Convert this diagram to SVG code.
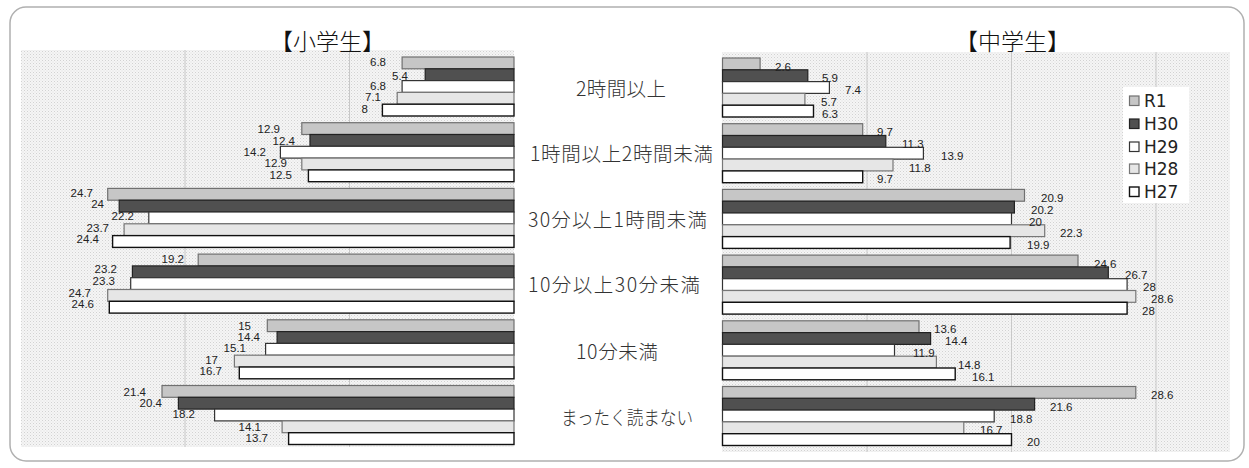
<svg xmlns="http://www.w3.org/2000/svg" width="1249" height="468" viewBox="0 0 1249 468">
<style>
.r1{fill:#c6c6c6;stroke:#707070;stroke-width:1.2}
.h30{fill:#505050;stroke:#222;stroke-width:1.2}
.h29{fill:#fff;stroke:#333;stroke-width:1.2}
.h28{fill:#e6e6e6;stroke:#777;stroke-width:1.2}
.h27{fill:#fff;stroke:#111;stroke-width:1.4}
.grid{stroke:#c8c8c8;stroke-width:1}
.val{font-family:"Liberation Sans",Arial,sans-serif;font-size:11.5px;fill:#222}
.vl{text-anchor:end}
.cat{font-family:"Noto Sans CJK JP",sans-serif;font-size:19.5px;font-weight:300;fill:#333;text-anchor:middle}
.ttl{font-family:"Noto Sans CJK JP",sans-serif;font-size:23px;font-weight:300;fill:#111;text-anchor:middle}
.lg{font-family:"DejaVu Sans",sans-serif;font-size:17px;fill:#222}
</style>
<defs>
<pattern id="dots" width="3" height="3" patternUnits="userSpaceOnUse">
<rect width="3" height="3" fill="#f5f5f5"/>
<rect width="1" height="1" fill="#d2d2d2"/>
<rect x="1.5" y="1.5" width="1" height="1" fill="#dedede"/>
</pattern>
</defs>
<rect x="0" y="0" width="1249" height="468" fill="#fff"/>
<rect id="frame" x="10" y="7" width="1234" height="454" rx="16" fill="#fff" stroke="#b0b0b0" stroke-width="1.5"/>

<g id="plot-left">
<rect x="21" y="50" width="493" height="397" fill="url(#dots)"/>
<line class="grid" x1="185" y1="50" x2="185" y2="447"/>
<line class="grid" x1="349.5" y1="50" x2="349.5" y2="447"/>
</g>
<g id="plot-right">
<rect x="722" y="52" width="508" height="400" fill="url(#dots)"/>
<line class="grid" x1="867" y1="52" x2="867" y2="452"/>
<line class="grid" x1="1011.5" y1="52" x2="1011.5" y2="452"/>
<line class="grid" x1="1156" y1="52" x2="1156" y2="452"/>
</g>

<text id="title-left" class="ttl" x="327.5" y="50">【小学生】</text>
<text id="title-right" class="ttl" x="1012.5" y="50">【中学生】</text>

<g id="categories">
<text class="cat" x="621" y="96" textLength="90">2時間以上</text>
<text class="cat" x="621.5" y="161" textLength="183">1時間以上2時間未満</text>
<text class="cat" x="617.5" y="227" textLength="179">30分以上1時間未満</text>
<text class="cat" x="614" y="292" textLength="172">10分以上30分未満</text>
<text class="cat" x="617" y="359" textLength="82">10分未満</text>
<text class="cat" x="627" y="425" textLength="132" lengthAdjust="spacingAndGlyphs">まったく読まない</text>
</g>

<g id="left-g1">
<rect class="r1" x="402.1" y="57" width="111.9" height="11.8"/>
<rect class="h30" x="425.2" y="68.8" width="88.8" height="11.8"/>
<rect class="h29" x="402.1" y="80.6" width="111.9" height="11.8"/>
<rect class="h28" x="397.2" y="92.4" width="116.8" height="11.8"/>
<rect class="h27" x="382.4" y="104.2" width="131.6" height="11.8"/>
<text class="val vl" x="386" y="66">6.8</text>
<text class="val vl" x="408" y="80">5.4</text>
<text class="val vl" x="386" y="90">6.8</text>
<text class="val vl" x="381" y="101">7.1</text>
<text class="val vl" x="368" y="113">8</text>
</g>
<g id="left-g2">
<rect class="r1" x="301.8" y="122.7" width="212.2" height="11.8"/>
<rect class="h30" x="310" y="134.5" width="204" height="11.8"/>
<rect class="h29" x="280.4" y="146.3" width="233.6" height="11.8"/>
<rect class="h28" x="301.8" y="158.1" width="212.2" height="11.8"/>
<rect class="h27" x="308.4" y="169.9" width="205.6" height="11.8"/>
<text class="val vl" x="280" y="133">12.9</text>
<text class="val vl" x="295" y="145">12.4</text>
<text class="val vl" x="266" y="156">14.2</text>
<text class="val vl" x="287" y="167">12.9</text>
<text class="val vl" x="292" y="179">12.5</text>
</g>
<g id="left-g3">
<rect class="r1" x="107.7" y="188.4" width="406.3" height="11.8"/>
<rect class="h30" x="119.2" y="200.2" width="394.8" height="11.8"/>
<rect class="h29" x="148.8" y="212" width="365.2" height="11.8"/>
<rect class="h28" x="124.1" y="223.8" width="389.9" height="11.8"/>
<rect class="h27" x="112.6" y="235.6" width="401.4" height="11.8"/>
<text class="val vl" x="93" y="197">24.7</text>
<text class="val vl" x="104" y="208">24</text>
<text class="val vl" x="134" y="220">22.2</text>
<text class="val vl" x="109" y="232">23.7</text>
<text class="val vl" x="99" y="243">24.4</text>
</g>
<g id="left-g4">
<rect class="r1" x="198.2" y="254.1" width="315.8" height="11.8"/>
<rect class="h30" x="132.4" y="265.9" width="381.6" height="11.8"/>
<rect class="h29" x="130.7" y="277.7" width="383.3" height="11.8"/>
<rect class="h28" x="107.7" y="289.5" width="406.3" height="11.8"/>
<rect class="h27" x="109.3" y="301.3" width="404.7" height="11.8"/>
<text class="val vl" x="184" y="263">19.2</text>
<text class="val vl" x="117" y="273">23.2</text>
<text class="val vl" x="115" y="285">23.3</text>
<text class="val vl" x="91" y="297">24.7</text>
<text class="val vl" x="94" y="308">24.6</text>
</g>
<g id="left-g5">
<rect class="r1" x="267.3" y="319.8" width="246.7" height="11.8"/>
<rect class="h30" x="277.1" y="331.6" width="236.9" height="11.8"/>
<rect class="h29" x="265.6" y="343.4" width="248.4" height="11.8"/>
<rect class="h28" x="234.4" y="355.2" width="279.6" height="11.8"/>
<rect class="h27" x="239.3" y="367" width="274.7" height="11.8"/>
<text class="val vl" x="251" y="330">15</text>
<text class="val vl" x="260" y="341">14.4</text>
<text class="val vl" x="246" y="352">15.1</text>
<text class="val vl" x="218" y="364">17</text>
<text class="val vl" x="222" y="375">16.7</text>
</g>
<g id="left-g6">
<rect class="r1" x="162" y="385.5" width="352" height="11.8"/>
<rect class="h30" x="178.4" y="397.3" width="335.6" height="11.8"/>
<rect class="h29" x="214.6" y="409.1" width="299.4" height="11.8"/>
<rect class="h28" x="282.1" y="420.9" width="231.9" height="11.8"/>
<rect class="h27" x="288.6" y="432.7" width="225.4" height="11.8"/>
<text class="val vl" x="146" y="396">21.4</text>
<text class="val vl" x="162" y="407">20.4</text>
<text class="val vl" x="195" y="418">18.2</text>
<text class="val vl" x="261" y="431">14.1</text>
<text class="val vl" x="268" y="442">13.7</text>
</g>

<g id="right-g1">
<rect class="r1" x="722.5" y="58" width="37.6" height="11.8"/>
<rect class="h30" x="722.5" y="69.8" width="85.3" height="11.8"/>
<rect class="h29" x="722.5" y="81.6" width="106.9" height="11.8"/>
<rect class="h28" x="722.5" y="93.4" width="82.4" height="11.8"/>
<rect class="h27" x="722.5" y="105.2" width="91" height="11.8"/>
<text class="val" x="775" y="70.5">2.6</text>
<text class="val" x="822" y="82.3">5.9</text>
<text class="val" x="845" y="94.1">7.4</text>
<text class="val" x="821" y="105.9">5.7</text>
<text class="val" x="822" y="117.7">6.3</text>
</g>
<g id="right-g2">
<rect class="r1" x="722.5" y="123.7" width="140.2" height="11.8"/>
<rect class="h30" x="722.5" y="135.5" width="163.3" height="11.8"/>
<rect class="h29" x="722.5" y="147.3" width="200.9" height="11.8"/>
<rect class="h28" x="722.5" y="159.1" width="170.5" height="11.8"/>
<rect class="h27" x="722.5" y="170.9" width="140.2" height="11.8"/>
<text class="val" x="877" y="136.2">9.7</text>
<text class="val" x="902" y="148">11.3</text>
<text class="val" x="941" y="159.8">13.9</text>
<text class="val" x="909" y="171.6">11.8</text>
<text class="val" x="877" y="183.4">9.7</text>
</g>
<g id="right-g3">
<rect class="r1" x="722.5" y="189.4" width="302" height="11.8"/>
<rect class="h30" x="722.5" y="201.2" width="291.9" height="11.8"/>
<rect class="h29" x="722.5" y="213" width="289" height="11.8"/>
<rect class="h28" x="722.5" y="224.8" width="322.2" height="11.8"/>
<rect class="h27" x="722.5" y="236.6" width="287.6" height="11.8"/>
<text class="val" x="1041" y="201.9">20.9</text>
<text class="val" x="1031" y="213.7">20.2</text>
<text class="val" x="1029" y="225.5">20</text>
<text class="val" x="1060" y="237.3">22.3</text>
<text class="val" x="1027" y="249.1">19.9</text>
</g>
<g id="right-g4">
<rect class="r1" x="722.5" y="255.1" width="355.5" height="11.8"/>
<rect class="h30" x="722.5" y="266.9" width="385.8" height="11.8"/>
<rect class="h29" x="722.5" y="278.7" width="404.6" height="11.8"/>
<rect class="h28" x="722.5" y="290.5" width="413.3" height="11.8"/>
<rect class="h27" x="722.5" y="302.3" width="404.6" height="11.8"/>
<text class="val" x="1094" y="267.6">24.6</text>
<text class="val" x="1125" y="279.4">26.7</text>
<text class="val" x="1143" y="291.2">28</text>
<text class="val" x="1151" y="303">28.6</text>
<text class="val" x="1142" y="314.8">28</text>
</g>
<g id="right-g5">
<rect class="r1" x="722.5" y="320.8" width="196.5" height="11.8"/>
<rect class="h30" x="722.5" y="332.6" width="208.1" height="11.8"/>
<rect class="h29" x="722.5" y="344.4" width="172" height="11.8"/>
<rect class="h28" x="722.5" y="356.2" width="213.9" height="11.8"/>
<rect class="h27" x="722.5" y="368" width="232.7" height="11.8"/>
<text class="val" x="934" y="333.3">13.6</text>
<text class="val" x="945" y="345.1">14.4</text>
<text class="val" x="913" y="356.9">11.9</text>
<text class="val" x="958" y="368.7">14.8</text>
<text class="val" x="972" y="380.5">16.1</text>
</g>
<g id="right-g6">
<rect class="r1" x="722.5" y="386.5" width="413.3" height="11.8"/>
<rect class="h30" x="722.5" y="398.3" width="312.1" height="11.8"/>
<rect class="h29" x="722.5" y="410.1" width="271.7" height="11.8"/>
<rect class="h28" x="722.5" y="421.9" width="241.3" height="11.8"/>
<rect class="h27" x="722.5" y="433.7" width="289" height="11.8"/>
<text class="val" x="1151" y="399">28.6</text>
<text class="val" x="1050" y="410.8">21.6</text>
<text class="val" x="1010" y="422.6">18.8</text>
<text class="val" x="980" y="434.4">16.7</text>
<text class="val" x="1027" y="446.2">20</text>
</g>

<g id="legend">
<rect x="1123" y="87" width="66" height="116" fill="#fff"/>
<rect class="r1" x="1129.5" y="96" width="9.5" height="9.5"/>
<rect class="h30" x="1129.5" y="119" width="9.5" height="9.5"/>
<rect class="h29" x="1129.5" y="142" width="9.5" height="9.5"/>
<rect class="h28" x="1129.5" y="164" width="9.5" height="9.5"/>
<rect class="h27" x="1129.5" y="187" width="9.5" height="9.5"/>
<text class="lg" x="1144" y="107">R1</text>
<text class="lg" x="1144" y="130">H30</text>
<text class="lg" x="1144" y="153">H29</text>
<text class="lg" x="1144" y="175">H28</text>
<text class="lg" x="1144" y="198">H27</text>
</g>
</svg>
